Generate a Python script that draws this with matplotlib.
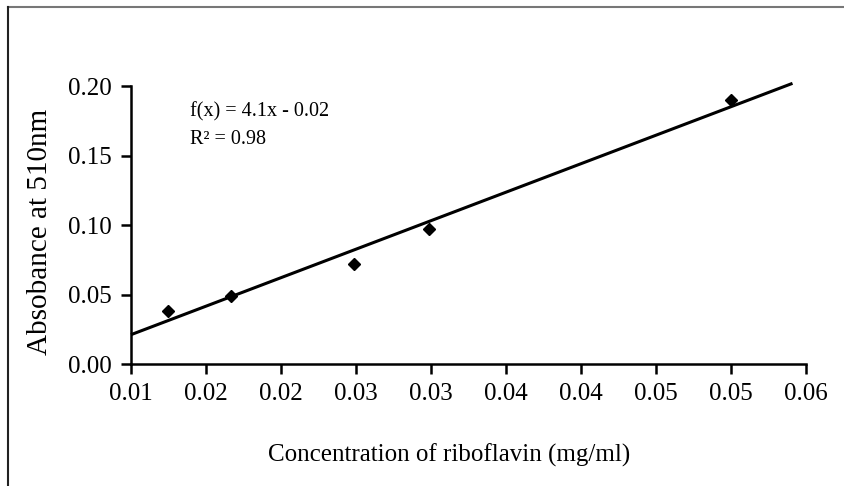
import numpy as np
import matplotlib
matplotlib.use('Agg')
import matplotlib.pyplot as plt
from matplotlib.lines import Line2D

plt.rcParams['font.family'] = ['Liberation Serif', 'DejaVu Serif']

# data
conc = [0.0125, 0.0167, 0.0249, 0.0299, 0.0500]
absorb = [0.038, 0.049, 0.072, 0.097, 0.190]

slope = 4.1
intercept = -0.0199
fit_x = [0.010, 0.0541]

x_ticks = [0.010, 0.015, 0.020, 0.025, 0.030, 0.035, 0.040, 0.045, 0.050, 0.055]
x_labels = ['0.01', '0.02', '0.02', '0.03', '0.03', '0.04', '0.04', '0.05', '0.05', '0.06']
y_ticks = [0.00, 0.05, 0.10, 0.15, 0.20]
y_labels = ['0.00', '0.05', '0.10', '0.15', '0.20']

fig = plt.figure(figsize=(8.45, 4.86), dpi=100)
ax = fig.add_axes([131/845, 1-364/486, (806-131)/845, (364-86)/486])

fx = np.array(fit_x)
ax.plot(fx, slope*fx + intercept, color='black', lw=2.2, solid_capstyle='butt', clip_on=False)
ax.plot(conc, absorb, 'D', color='black', markersize=6.5, clip_on=False)

ax.set_xlim(0.010, 0.055)
ax.set_ylim(0.0, 0.20)
ax.set_xticks(x_ticks)
ax.set_xticklabels(x_labels)
ax.set_yticks(y_ticks)
ax.set_yticklabels(y_labels)

for s in ['top', 'right']:
    ax.spines[s].set_visible(False)
for s in ['left', 'bottom']:
    ax.spines[s].set_linewidth(1.8)
ax.tick_params(direction='out', length=7, width=1.8, labelsize=18, pad=7)

ax.set_xlabel('Concentration of riboflavin (mg/ml)', fontsize=18)
ax.xaxis.set_label_coords((449-131)/675, -(455-364)/278, transform=ax.transAxes)
ax.xaxis.label.set_va('center')
ax.set_ylabel('Absobance at 510nm', fontsize=21)
ax.yaxis.set_label_coords(-(131-40)/675, (364-232)/278, transform=ax.transAxes)
ax.yaxis.label.set_va('center')

ax.text(0.01393, 0.1716, 'f(x) = 4.1x - 0.02\nR² = 0.98', fontsize=14.5,
        va='center', ha='left', linespacing=1.6)

# frame lines of the original screenshot
fig.add_artist(Line2D([8/845, 1], [1-7.5/486, 1-7.5/486], color='#777777', lw=1.5))
fig.add_artist(Line2D([8.5/845, 8.5/845], [0, 1-7.5/486], color='#222222', lw=1.5))

fig.savefig('out.png', dpi=100)
